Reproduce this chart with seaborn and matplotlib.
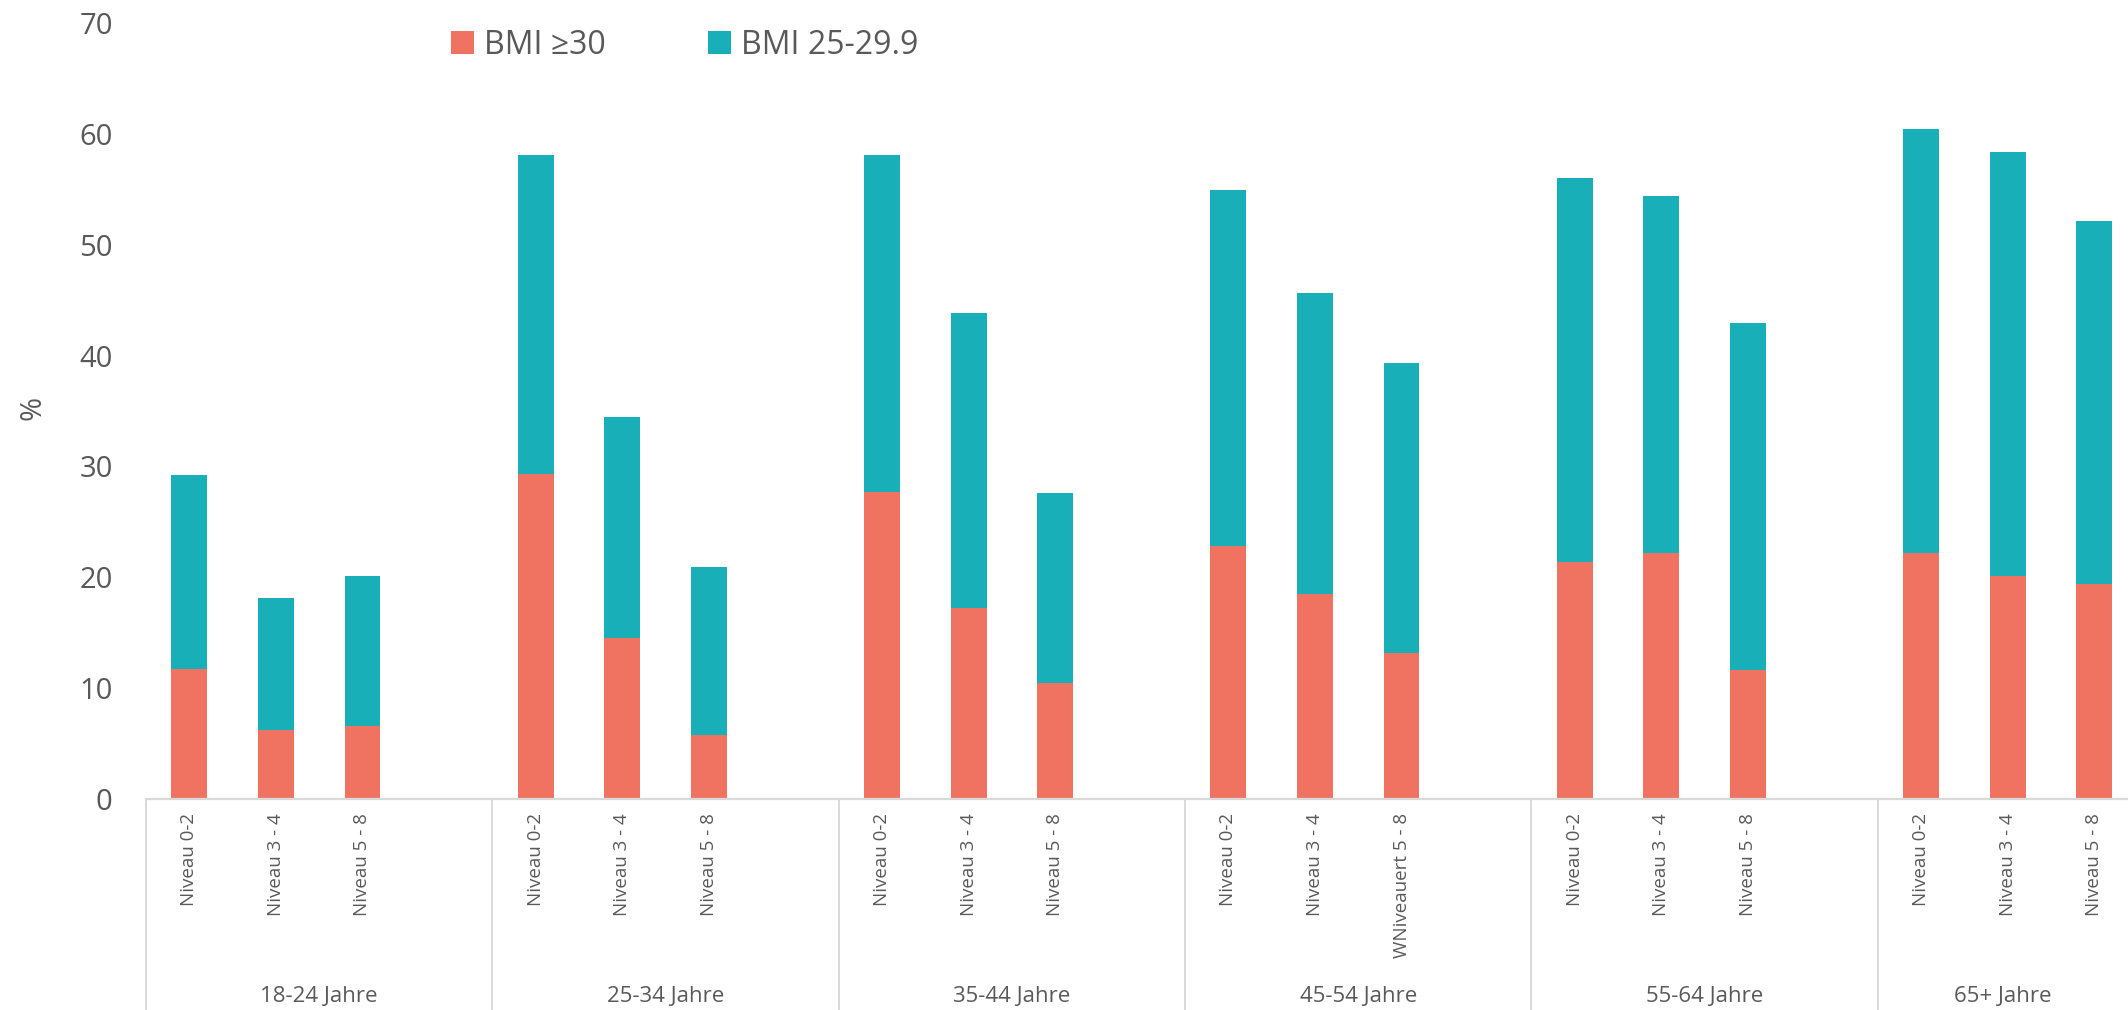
import matplotlib
matplotlib.use("Agg")
import matplotlib.pyplot as plt
import matplotlib.transforms as mtransforms
from matplotlib.patches import Patch
import numpy as np
import pandas as pd
import seaborn as sns

# Age groups and education levels
age_groups = ["18-24 Jahre", "25-34 Jahre", "35-44 Jahre",
              "45-54 Jahre", "55-64 Jahre", "65+ Jahre"]
levels = [
    ["Niveau 0-2", "Niveau 3 - 4", "Niveau 5 - 8"],
    ["Niveau 0-2", "Niveau 3 - 4", "Niveau 5 - 8"],
    ["Niveau 0-2", "Niveau 3 - 4", "Niveau 5 - 8"],
    ["Niveau 0-2", "Niveau 3 - 4", "WNiveauert 5 - 8"],
    ["Niveau 0-2", "Niveau 3 - 4", "Niveau 5 - 8"],
    ["Niveau 0-2", "Niveau 3 - 4", "Niveau 5 - 8"],
]

# Share in % per group (three education levels each)
bmi_30_plus = [11.7, 6.2, 6.6,
               29.3, 14.5, 5.8,
               27.7, 17.2, 10.5,
               22.8, 18.5, 13.2,
               21.4, 22.2, 11.6,
               22.2, 20.1, 19.4]
bmi_25_29 = [17.5, 11.9, 13.5,
             28.8, 20.0, 15.1,
             30.4, 26.6, 17.1,
             32.1, 27.1, 26.1,
             34.6, 32.2, 31.3,
             38.2, 38.3, 32.7]

series_names = ["BMI \u226530", "BMI 25-29.9"]
RED = "#F07260"
TEAL = "#19AFB8"
TEXT = "#595959"
GRID = "#D9D9D9"

# Each age group takes four slots: three bars and a blank gap
positions = [4 * g + j for g in range(len(age_groups)) for j in range(3)]
tick_labels = [lab for grp in levels for lab in grp]

df = pd.DataFrame({
    "pos": positions,
    "obese": bmi_30_plus,
    "overweight": bmi_25_29,
})
df["stack_top"] = df["obese"] + df["overweight"]

sns.set_theme(style="white")
plt.rcParams["font.family"] = ["Open Sans", "DejaVu Sans"]

W, H = 2128, 1010
fig = plt.figure(figsize=(W / 100, H / 100), dpi=100)
ax = fig.add_axes([146 / W, 1 - 799 / H, 1 - 146 / W, (799 - 23) / H])

bar_w = 0.415
sns.barplot(data=df, x="pos", y="stack_top", native_scale=True, color=TEAL,
            saturation=1, width=bar_w, errorbar=None, linewidth=0, ax=ax)
sns.barplot(data=df, x="pos", y="obese", native_scale=True, color=RED,
            saturation=1, width=bar_w, errorbar=None, linewidth=0, ax=ax)

x_lo, x_hi = -0.5, 22.39
ax.set_xlim(x_lo, x_hi)
ax.set_ylim(0, 70)
ax.set_yticks(np.arange(0, 71, 10))
ax.set_yticklabels([str(v) for v in range(0, 71, 10)], fontsize=21, color=TEXT)
ax.tick_params(axis="y", length=0, pad=24)

ax.set_xticks(positions)
ax.set_xticklabels(tick_labels, rotation=90, fontsize=13.5, color=TEXT,
                   va="top", ha="center")
ax.tick_params(axis="x", length=0, pad=10)
ax.set_xlabel("")
ax.set_ylabel("")

for side in ["top", "right", "left"]:
    ax.spines[side].set_visible(False)
ax.spines["bottom"].set_color(GRID)
ax.spines["bottom"].set_linewidth(1.6)

# Group separators below the axis
trans = mtransforms.blended_transform_factory(ax.transData, ax.transAxes)
depth = (H - 799) / (799 - 23)
for g in range(len(age_groups)):
    xs = 4 * g - 0.5
    ax.plot([xs, xs], [0, -depth], transform=trans, color=GRID, lw=1.4,
            clip_on=False, solid_capstyle="butt")

# Group names, centred on the visible part of each group
for g, name in enumerate(age_groups):
    left = 4 * g - 0.5
    right = min(4 * g + 3.5, x_hi)
    ax.text((left + right) / 2, -(997 - 799) / (799 - 23), name,
            transform=trans, ha="center", va="center", fontsize=16,
            color=TEXT)

fig.text(33 / W, 1 - 408 / H, "%", rotation=90, ha="center", va="center",
         fontsize=21, color=TEXT)

handles = [Patch(facecolor=RED, edgecolor="none"),
           Patch(facecolor=TEAL, edgecolor="none")]
leg = fig.legend(handles, series_names, loc="center left",
                 bbox_to_anchor=(451 / W, 1 - 45 / H), ncol=2, frameon=False,
                 fontsize=23, handlelength=0.72, handleheight=0.72,
                 handletextpad=0.32, columnspacing=3.2, borderpad=0,
                 borderaxespad=0)
for t in leg.get_texts():
    t.set_color(TEXT)

fig.savefig("out.png", dpi=100, facecolor="white")
